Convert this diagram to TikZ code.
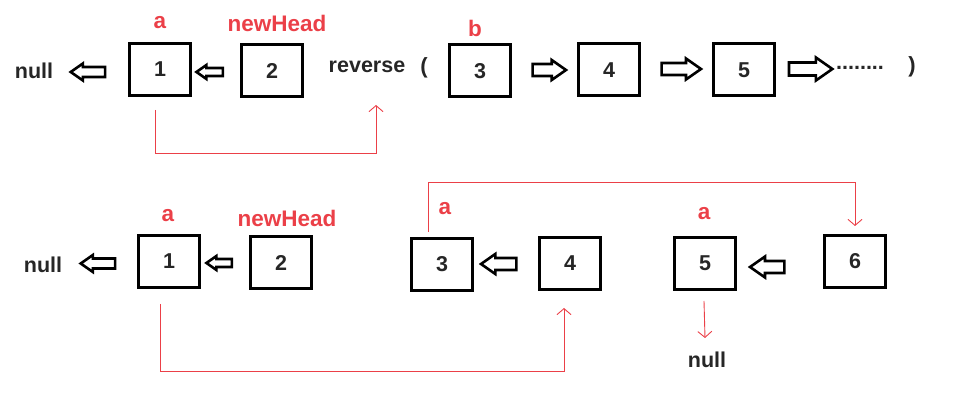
\documentclass[tikz,border=0pt]{standalone}
\usepackage{fontspec}
\setmainfont{Liberation Sans}
\usetikzlibrary{shapes.arrows,arrows.meta}
\definecolor{mark}{RGB}{235,64,72}
\definecolor{ink}{RGB}{38,38,38}

\begin{document}
\begin{tikzpicture}[x=1pt,y=-1pt,
    every node/.style={font=\bfseries\fontsize{21.5}{24}\selectfont,text=ink},
    cell/.style={draw=black,line width=3pt,minimum width=61pt,minimum height=52pt,inner sep=0pt},
    tag/.style={text=mark,font=\bfseries\fontsize{22.5}{26}\selectfont},
    brace/.style={font=\bfseries\fontsize{22}{26}\selectfont},
    blk/.style n args={3}{single arrow,draw=black,line width=2.6pt,fill=white,
        inner xsep=0pt,inner ysep=#2,minimum height=#1,single arrow head extend=#3,
        single arrow tip angle=70},
    toleft/.style={shape border rotate=180},
    link/.style={draw=mark,line width=0.9pt,-{Straight Barb[length=6pt,width=14pt]}}]
\useasboundingbox (0,0) rectangle (956,403);

% first call
\node (nullA) at (34,71) {null};
\node[cell] (a1) at (160,69.5) {1};
\node[cell] (a2) at (272,70.5) {2};
\node (rev) at (367,67) {reverse};
\node[brace] (lp) at (424,68) {(};
\node[cell] (a3) at (480,71) {3};
\node[cell] (a4) at (609,70) {4};
\node[cell] (a5) at (744,70) {5};
\node (dots) at (860,68) {........};
\node[brace] (rp) at (912,67) {)};

\node[tag] (ta) at (160,23) {a};
\node[tag] (tn) at (277,23) {newHead};
\node[tag] (tb) at (475,28) {b};

\node[blk={34.4pt}{3.7pt}{3.5pt},toleft] (ar0) at (91.5,72) {};
\node[blk={26.4pt}{2.7pt}{3pt},toleft] (ar1) at (212.5,72) {};
\node[blk={33.4pt}{4.7pt}{4pt}] (ar2) at (545,70) {};
\node[blk={39.4pt}{4.7pt}{4.5pt}] (ar3) at (677,69) {};
\node[blk={43.4pt}{5.2pt}{5pt}] (ar4) at (806,69) {};

\coordinate (revtip) at (376,105);
\draw[link] ([xshift=-5pt,yshift=-13pt]a1.south) -- ++(0,43) -| (revtip);

% second call
\node (nullB) at (43,265) {null};
\node[cell] (b1) at (169,261.5) {1};
\node[cell] (b2) at (281,262.5) {2};
\node[cell] (b3) at (442,264.5) {3};
\node[cell] (b4) at (570,263.5) {4};
\node[cell] (b5) at (705,263.5) {5};
\node[cell] (b6) at (855,261.5) {6};
\node (nullC) at (707,360) {null};

\node[tag] (ua) at (168,216) {a};
\node[tag] (un) at (287,218) {newHead};
\node[tag] (ub) at (445,209) {a};
\node[tag] (uc) at (704,214) {a};

\node[blk={34.4pt}{3.7pt}{3.5pt},toleft] (br0) at (101.5,263.5) {};
\node[blk={25.4pt}{2.7pt}{3pt},toleft] (br1) at (222,263) {};
\node[blk={35.4pt}{4.7pt}{4pt},toleft] (br2) at (503,264) {};
\node[blk={34.4pt}{4.7pt}{4.5pt},toleft] (br3) at (771.5,267) {};

\coordinate (b4tip) at (564,308);
\draw[link] ([xshift=-9pt,yshift=-15pt]b1.south) -- ++(0,67) -| (b4tip);
\draw[link] ([xshift=-14pt,yshift=5pt]b3.north) -- ++(0,-50) -| ([yshift=8pt]b6.north);
\draw[link] ([xshift=-1pt,yshift=-10pt]b5.south) -- ([yshift=-47pt]b5.south);
\end{tikzpicture}
\end{document}
